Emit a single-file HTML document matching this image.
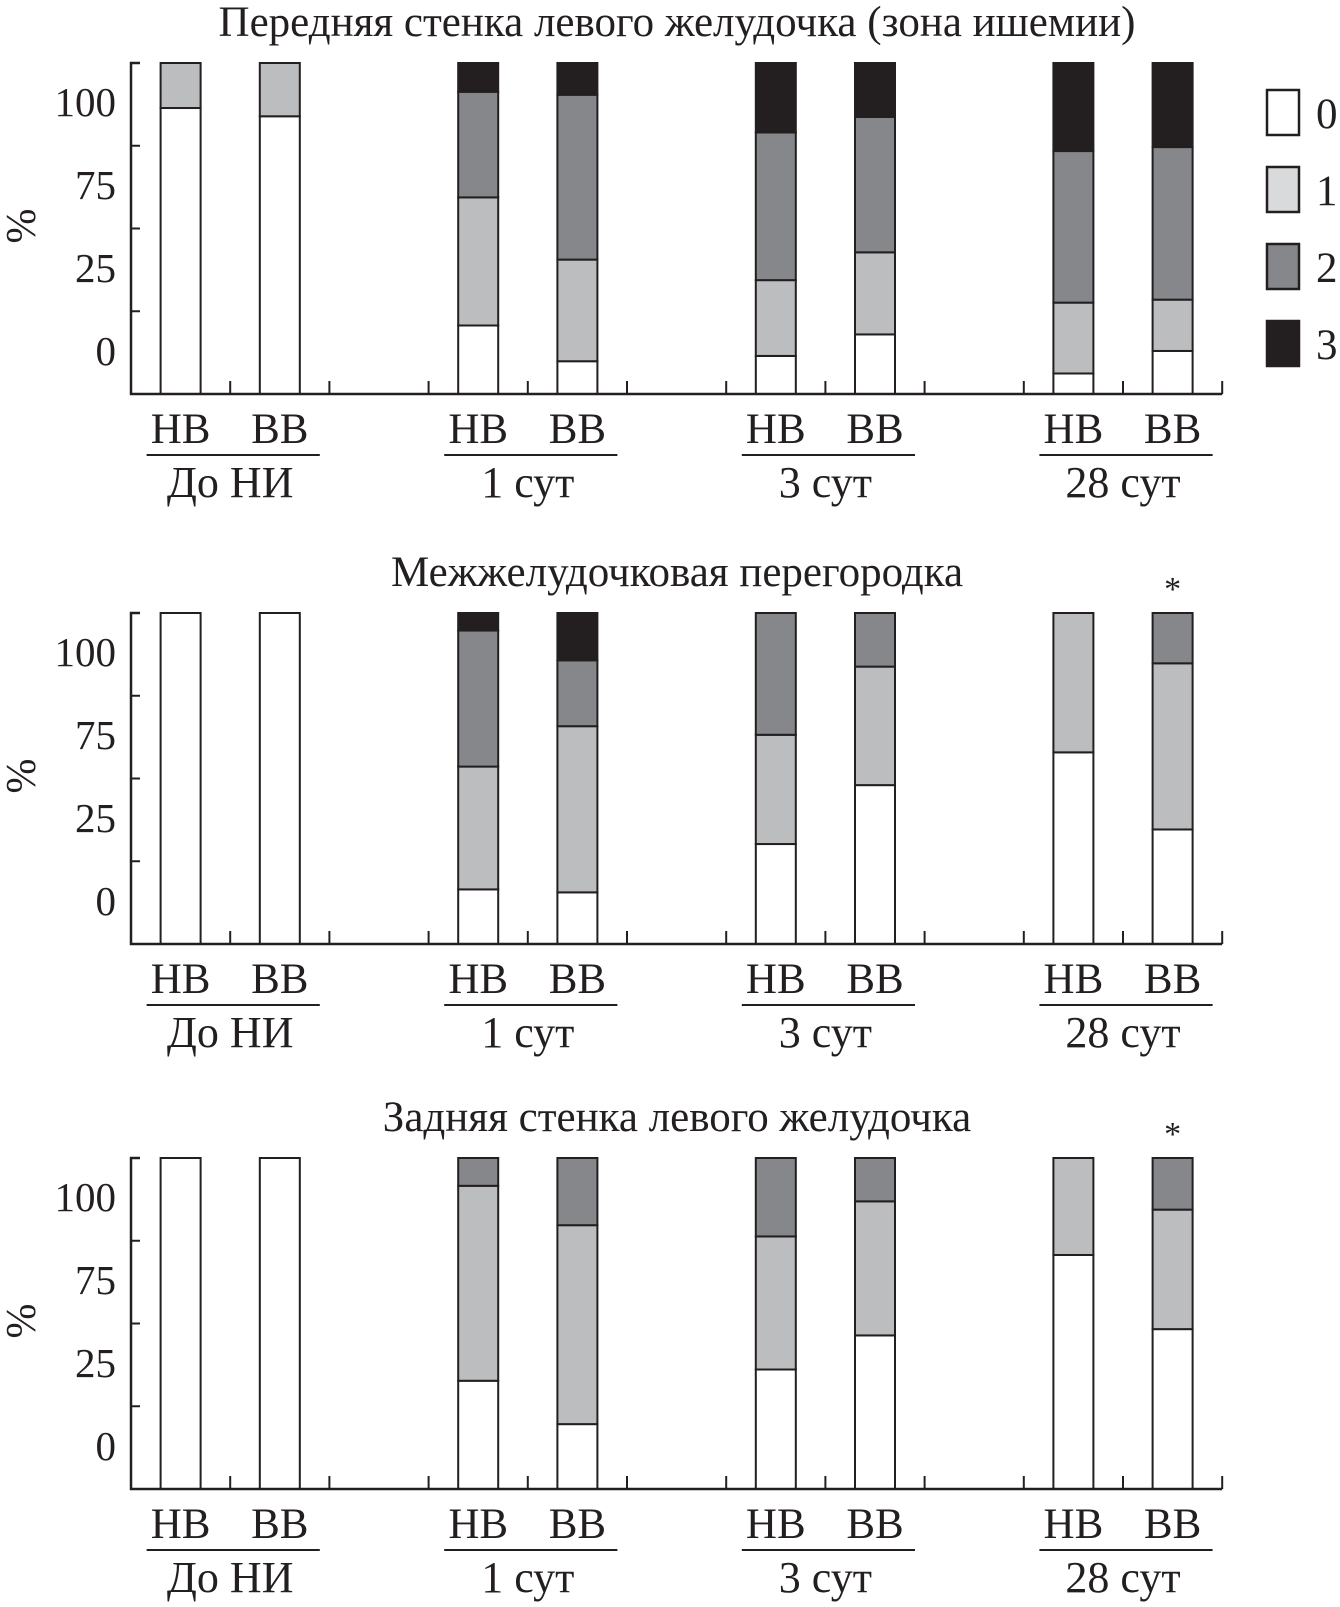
<!DOCTYPE html>
<html><head><meta charset="utf-8"><style>
html,body{margin:0;padding:0;background:#fff;}
svg{display:block;font-family:"Liberation Serif","DejaVu Serif",serif;}
</style></head><body>
<svg id="chart" width="1340" height="1607" viewBox="0 0 1340 1607"></svg>
<script>
const panelTitles = ["Передняя стенка левого желудочка (зона ишемии)", "Межжелудочковая перегородка", "Задняя стенка левого желудочка"];
const groups = ["До НИ", "1 сут", "3 сут", "28 сут"];
const subgroups = ["НВ", "ВВ"];
const yTickLabels = ["100", "75", "25", "0"];
const legendLabels = ["0", "1", "2", "3"];
// values per bar: [grade0, grade1, grade2, grade3] in %
const panel1 = [[86.4,13.6,0,0],[83.9,16.1,0,0],[20.7,38.7,31.9,8.7],[9.9,30.7,49.8,9.6],[11.5,22.9,44.6,21.0],[18.0,24.8,40.9,16.3],[6.2,21.4,45.8,26.6],[13.0,15.5,46.1,25.4]];
const panel2 = [[100,0,0,0],[100,0,0,0],[16.5,37.1,41.1,5.3],[15.6,50.2,19.9,14.3],[30.2,33.0,36.8,0],[48.0,35.8,16.2,0],[57.9,42.1,0,0],[34.6,50.2,15.2,0]];
const panel3 = [[100,0,0,0],[100,0,0,0],[32.7,58.9,8.4,0],[19.6,60.1,20.3,0],[36.1,40.2,23.7,0],[46.4,40.5,13.1,0],[70.7,29.3,0,0],[48.3,36.1,15.6,0]];
const asterisks = [[], [7], [7]];

const NS = "http://www.w3.org/2000/svg";
const svg = document.getElementById("chart");
const fills = ["#ffffff", "#bcbdbf", "#86878a", "#231f20"];
const legendFills = ["#ffffff", "#d9dadb", "#86878a", "#231f20"];
const panels = [panel1, panel2, panel3];
const offsets = [0, 550, 1095];
const axisX = 131, slotW = 99.2, barW = 40;
const slotIdx = [0,1,3,4,6,7,9,10];
function el(tag, attrs, parent) {
  const e = document.createElementNS(NS, tag);
  for (const k in attrs) e.setAttribute(k, attrs[k]);
  (parent || svg).appendChild(e);
  return e;
}
function slotCenter(i) { return axisX + slotW * (slotIdx[i] + 0.5); }

panels.forEach((data, p) => {
  const off = offsets[p];
  const top = off + 63, base = off + 394;
  const yS = v => base - (base - top) * v / 100;
  const g = el("g", {});
  
  
  const t = el("text", {x: 677, y: off + 36, "font-size": 43, "text-anchor": "middle", fill: "#231f20"}, g);
  t.textContent = panelTitles[p];
  
  
  data.forEach((vals, i) => {
    const cx = slotCenter(i);
    let cum = 0;
    vals.forEach((v, s) => {
      if (v <= 0) return;
      const r = el("rect", {x: cx - barW / 2, y: yS(cum + v), width: barW, height: yS(cum) - yS(cum + v), fill: fills[s], stroke: "#231f20", "stroke-width": 2}, g);
      
      
      cum += v;
    });
  });
  const ya = el("path", {d: `M${axisX + 9} ${top} H${axisX} V${base} H${axisX + slotW * 11}`, fill: "none", stroke: "#231f20", "stroke-width": 2.5}, g);
  
  
  for (let k = 1; k <= 3; k++) {
    const y = top + (base - top) * k / 4;
    const tk = el("line", {x1: axisX, x2: axisX + 9, y1: y, y2: y, stroke: "#231f20", "stroke-width": 2}, g);
    
    
  }
  for (let k = 1; k <= 11; k++) {
    const x = axisX + slotW * k;
    const tk = el("line", {x1: x, x2: x, y1: base, y2: base - 13, stroke: "#231f20", "stroke-width": 2}, g);
    
    
  }
  const labYs = [102, 185, 268, 351];
  yTickLabels.forEach((lab, k) => {
    const tl = el("text", {x: 116, y: off + labYs[k] + 14, "font-size": 41, "text-anchor": "end", fill: "#231f20"}, g);
    tl.textContent = lab;
    
    
  });
  const yt = el("text", {x: 0, y: 0, "font-size": 42, "text-anchor": "middle", fill: "#231f20", transform: `translate(35 ${off + 226}) rotate(-90)`}, g);
  yt.textContent = "%";
  
  
  data.forEach((vals, i) => {
    const xl = el("text", {x: slotCenter(i), y: off + 443, "font-size": 43, "text-anchor": "middle", fill: "#231f20"}, g);
    xl.textContent = subgroups[i % 2];
    
    
  });
  groups.forEach((gname, gi) => {
    const c1 = slotCenter(gi * 2), c2 = slotCenter(gi * 2 + 1);
    const ln = el("line", {x1: c1 - 34, x2: c2 + 40, y1: off + 455, y2: off + 455, stroke: "#231f20", "stroke-width": 2}, g);
    
    
    const gl = el("text", {x: (c1 + c2) / 2, y: off + 497, "font-size": 44, "text-anchor": "middle", fill: "#231f20"}, g);
    gl.textContent = gname;
    
    
  });
  asterisks[p].forEach(i => {
    const a = el("text", {x: slotCenter(i), y: off + 50, "font-size": 34, "text-anchor": "middle", fill: "#231f20"}, g);
    a.textContent = "*";
    
    
  });
});
const lg = el("g", {});


legendLabels.forEach((lab, k) => {
  const y = 90 + k * 77;
  const r = el("rect", {x: 1267, y: y, width: 32, height: 45, fill: legendFills[k], stroke: "#231f20", "stroke-width": 2.5}, lg);
  
  
  const t = el("text", {x: 1316, y: y + 38, "font-size": 43, fill: "#231f20"}, lg);
  t.textContent = lab;
  
  
});
</script>
</body></html>
